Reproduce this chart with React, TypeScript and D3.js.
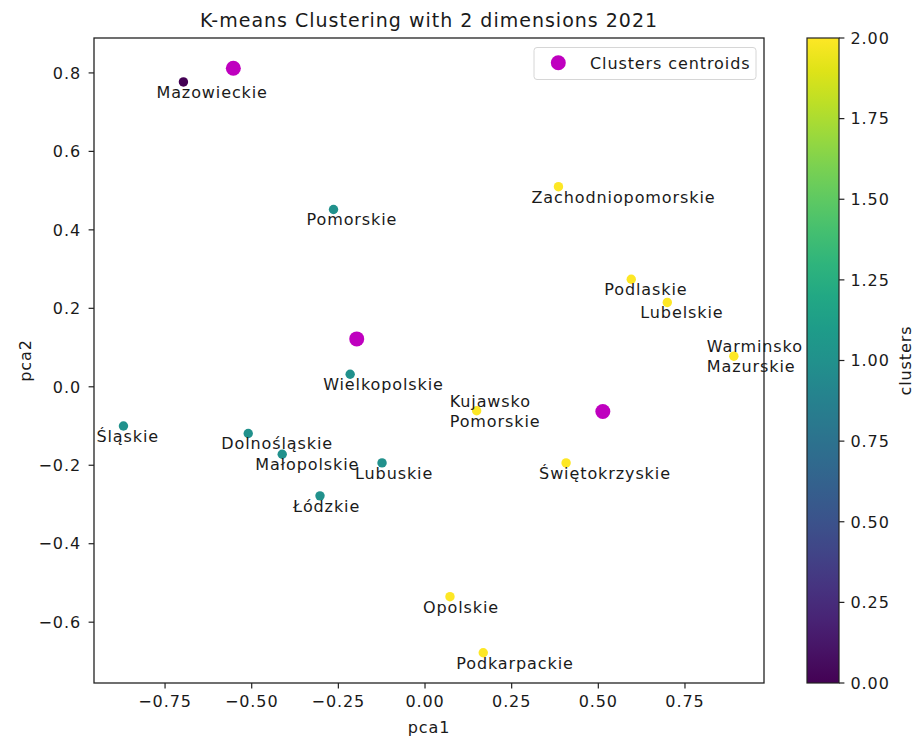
import { useMemo } from "react";
import * as d3 from "d3";

const regions = [
  "Mazowieckie",
  "Pomorskie",
  "Zachodniopomorskie",
  "Podlaskie",
  "Lubelskie",
  "Warminsko\nMazurskie",
  "Kujawsko\nPomorskie",
  "Świętokrzyskie",
  "Wielkopolskie",
  "Śląskie",
  "Dolnośląskie",
  "Małopolskie",
  "Lubuskie",
  "Łódzkie",
  "Opolskie",
  "Podkarpackie",
];
const pca1 = [-0.697, -0.264, 0.385, 0.595, 0.699, 0.891, 0.149, 0.407, -0.216, -0.87, -0.51, -0.412, -0.124, -0.303, 0.072, 0.168];
const pca2 = [0.777, 0.452, 0.51, 0.274, 0.215, 0.078, -0.061, -0.194, 0.032, -0.1, -0.119, -0.172, -0.194, -0.278, -0.535, -0.678];
const clusters = [0, 1, 2, 2, 2, 2, 2, 2, 1, 1, 1, 1, 1, 1, 2, 2];

const centroidX = [-0.553, -0.197, 0.513];
const centroidY = [0.812, 0.122, -0.063];

const xTicks = [-0.75, -0.5, -0.25, 0, 0.25, 0.5, 0.75];
const yTicks = [-0.6, -0.4, -0.2, 0, 0.2, 0.4, 0.6, 0.8];
const cbarTicks = [0, 0.25, 0.5, 0.75, 1, 1.25, 1.5, 1.75, 2];

const W = 918;
const H = 740;
const PLOT = { left: 94, right: 764, top: 38, bottom: 683 };
const CBAR = { left: 807, right: 839 };
const FONT = "DejaVu Sans, sans-serif";
const TXT = "#1a1a1a";
const FS = 16;
const LS = 0.9; // matplotlib's hinted glyphs run a bit wider

export default function App() {
  const x = useMemo(
    () => d3.scaleLinear().domain([-0.955, 0.978]).range([PLOT.left, PLOT.right]),
    []
  );
  const y = useMemo(
    () => d3.scaleLinear().domain([-0.755, 0.889]).range([PLOT.bottom, PLOT.top]),
    []
  );
  const cy = useMemo(
    () => d3.scaleLinear().domain([0, 2]).range([PLOT.bottom, PLOT.top]),
    []
  );
  const color = (c: number) => d3.interpolateViridis(c / 2);
  const fmt2 = d3.format(".2f");
  const fmtY = d3.format(".1f");
  const minus = (s: string) => s.replace("-", "\u2212");

  const stops = d3.range(0, 1.0001, 0.05);

  return (
    <svg
      width={W}
      height={H}
      style={{ position: "absolute", left: 0, top: 0, background: "#fff" }}
      fontFamily={FONT}
      letterSpacing={LS}
    >
      <defs>
        <linearGradient id="viridis" x1="0" y1="1" x2="0" y2="0">
          {stops.map((t) => (
            <stop key={t} offset={t} stopColor={d3.interpolateViridis(t)} />
          ))}
        </linearGradient>
      </defs>

      {/* title */}
      <text
        x={(PLOT.left + PLOT.right) / 2}
        y={27}
        textAnchor="middle"
        fontSize={19}
        letterSpacing={1}
        fill={TXT}
      >
        K-means Clustering with 2 dimensions 2021
      </text>

      {/* points */}
      {regions.map((r, i) => (
        <circle
          key={"p" + r}
          cx={x(pca1[i])}
          cy={y(pca2[i])}
          r={4.7}
          fill={color(clusters[i])}
        />
      ))}

      {/* centroids */}
      {centroidX.map((cx, i) => (
        <circle key={"c" + i} cx={x(cx)} cy={y(centroidY[i])} r={7.5} fill="#bf00bf" />
      ))}

      {/* labels */}
      {regions.map((r, i) => {
        const lines = r.split("\n");
        const bx = x(pca1[i]) - 27;
        const by = y(pca2[i]) + 16;
        return (
          <text key={"t" + r} fontSize={FS} fill={TXT}>
            {lines.map((l, j) => (
              <tspan key={j} x={bx} y={by - (lines.length - 1 - j) * 20}>
                {l}
              </tspan>
            ))}
          </text>
        );
      })}

      {/* legend */}
      <rect
        x={534}
        y={47.5}
        width={222}
        height={32}
        rx={3}
        fill="#fff"
        fillOpacity={0.8}
        stroke="#d6d6d6"
      />
      <circle cx={558.3} cy={62.7} r={7.5} fill="#bf00bf" />
      <text x={590} y={68.5} fontSize={FS} fill={TXT}>
        Clusters centroids
      </text>

      {/* axes frame */}
      <rect
        x={PLOT.left}
        y={PLOT.top}
        width={PLOT.right - PLOT.left}
        height={PLOT.bottom - PLOT.top}
        fill="none"
        stroke="#222"
        strokeWidth={1.3}
      />

      {/* x ticks */}
      {xTicks.map((t) => (
        <g key={"xt" + t} transform={`translate(${x(t)},${PLOT.bottom})`}>
          <line y2={5.4} stroke="#222" strokeWidth={1.2} />
          <text y={24} textAnchor="middle" fontSize={FS} fill={TXT}>
            {minus(fmt2(t))}
          </text>
        </g>
      ))}
      <text
        x={(PLOT.left + PLOT.right) / 2}
        y={733}
        textAnchor="middle"
        fontSize={FS}
        fill={TXT}
      >
        pca1
      </text>

      {/* y ticks */}
      {yTicks.map((t) => (
        <g key={"yt" + t} transform={`translate(${PLOT.left},${y(t)})`}>
          <line x2={-5.4} stroke="#222" strokeWidth={1.2} />
          <text x={-13} dy="0.36em" textAnchor="end" fontSize={FS} fill={TXT}>
            {minus(fmtY(t))}
          </text>
        </g>
      ))}
      <text
        transform={`translate(31,${(PLOT.top + PLOT.bottom) / 2}) rotate(-90)`}
        textAnchor="middle"
        fontSize={FS}
        fill={TXT}
      >
        pca2
      </text>

      {/* colorbar */}
      <rect
        x={CBAR.left}
        y={PLOT.top}
        width={CBAR.right - CBAR.left}
        height={PLOT.bottom - PLOT.top}
        fill="url(#viridis)"
        stroke="#222"
        strokeWidth={1.2}
      />
      {cbarTicks.map((t) => (
        <g key={"ct" + t} transform={`translate(${CBAR.right},${cy(t)})`}>
          <line x2={5.4} stroke="#222" strokeWidth={1.2} />
          <text x={11.5} dy="0.36em" fontSize={FS} fill={TXT}>
            {fmt2(t)}
          </text>
        </g>
      ))}
      <text
        transform={`translate(911,${(PLOT.top + PLOT.bottom) / 2}) rotate(-90)`}
        textAnchor="middle"
        fontSize={FS}
        fill={TXT}
      >
        clusters
      </text>
    </svg>
  );
}
